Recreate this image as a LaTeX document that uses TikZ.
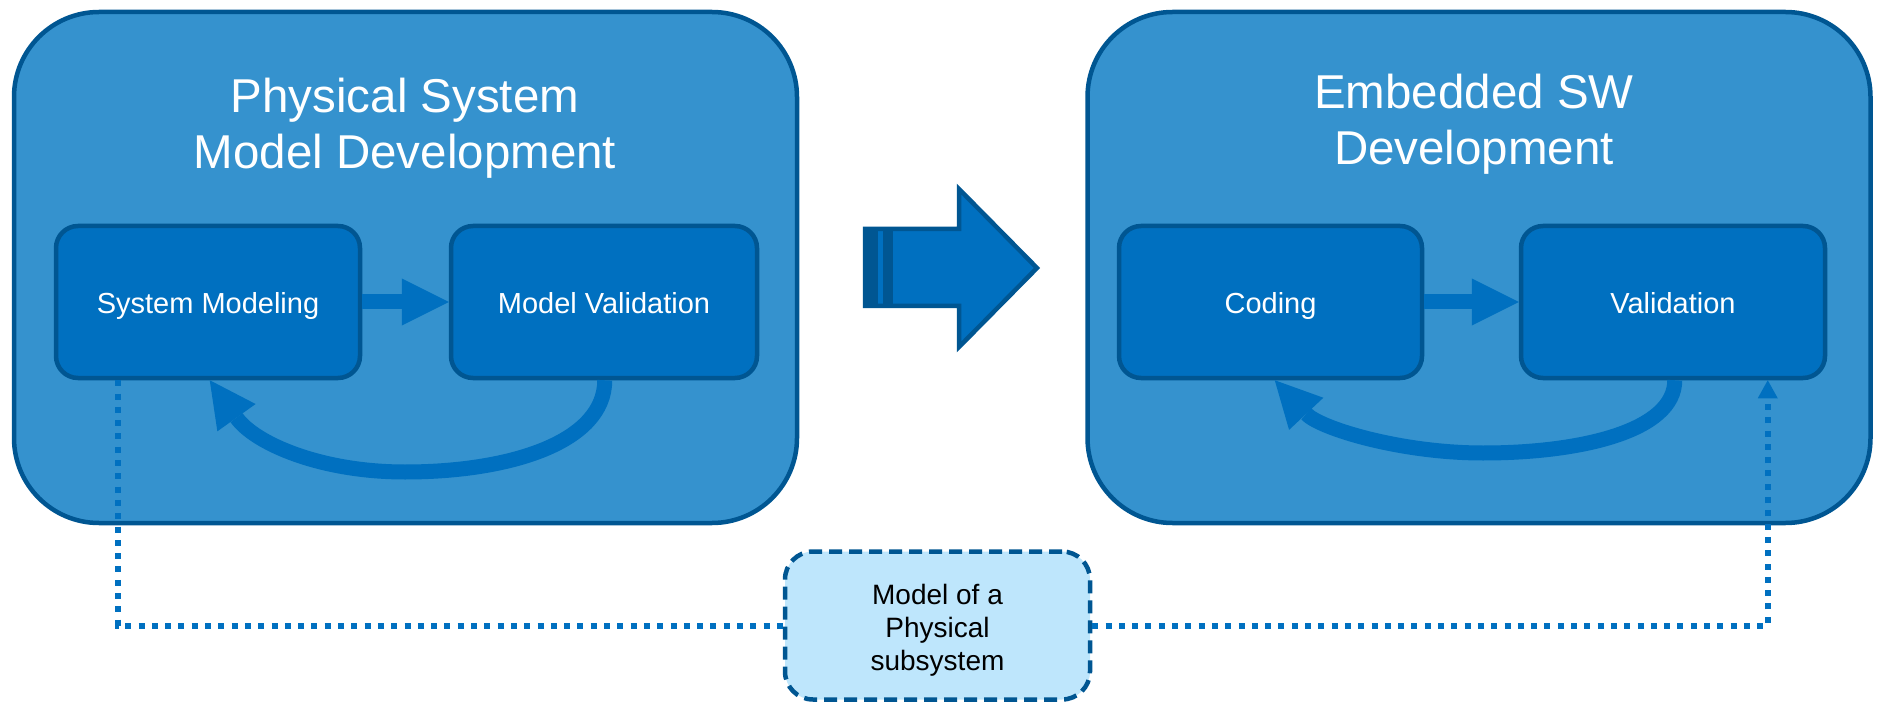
\documentclass[tikz,border=0pt]{standalone}
\usepackage{fontspec}
\setmainfont{Liberation Sans}
\usetikzlibrary{arrows.meta,calc}
\definecolor{panelfill}{RGB}{53,146,206}
\definecolor{boxfill}{RGB}{0,112,192}
\definecolor{rim}{RGB}{0,86,146}
\definecolor{notefill}{RGB}{190,230,252}

\begin{document}
\begin{tikzpicture}[x=1pt,y=-1pt,
  panel/.style={draw=rim, line width=4.5pt, fill=panelfill, rounded corners=85pt,
    minimum width=783pt, minimum height=511pt, inner sep=0pt},
  stage/.style={draw=rim, line width=4.5pt, fill=boxfill, rounded corners=22pt,
    minimum height=152pt, inner sep=0pt, text=white,
    font=\fontsize{29}{34}\selectfont, text height=22pt, text depth=0pt},
  heading/.style={text=white, align=center, inner sep=0pt,
    font=\fontsize{47.5}{56}\selectfont},
  note/.style={draw=rim, line width=4.5pt, dash pattern=on 13pt off 7pt,
    fill=notefill, rounded corners=28pt, minimum width=305pt, minimum height=148pt,
    align=center, inner sep=0pt, font=\fontsize{28}{33}\selectfont},
  flow/.style={draw=boxfill, line width=15pt,
    -{Triangle[length=47pt,width=47pt,line width=0pt]}},
  backflow/.style={draw=boxfill, line width=15pt,
    -{Triangle[length=46pt,width=47pt,line width=0pt]}},
  link/.style={draw=boxfill, line width=6pt, dash pattern=on 6pt off 7.3pt},
]
\useasboundingbox (0,0) rectangle (1879,703);

% the two development phases
\node[panel] (physical) at (405.5,267.5) {};
\node[panel] (embedded) at (1479,267.5) {};
\node[heading] (physicalT) at (405,128) {Physical System\\Model Development};
\node[heading] (embeddedT) at (1474,124.5) {Embedded SW\\Development};

% steps inside each phase
\node[stage, minimum width=304pt] (model) at (208,302) {System Modeling};
\node[stage, minimum width=306pt] (valid) at (604,302) {Model Validation};
\node[stage, minimum width=303pt] (code) at (1270.5,302) {Coding};
\node[stage, minimum width=304pt] (test) at (1673,302) {Validation};

% shared model
\node[note] (sub) at (937.5,625.5) {\rule{0pt}{29pt}Model of a\\Physical\\subsystem};

% striped block arrow between the phases
\draw[rim, fill=boxfill, line width=4.5pt, miter limit=10]
  (865,229) -- (959,229) -- (959,189) -- (1037,268) -- (959,347)
  -- (959,306) -- (865,306) -- cycle;
\fill[rim] (863,227) rectangle (878,308);
\fill[rim] (883,227) rectangle (893,308);

% forward steps
\draw[flow] (model) -- (valid);
\draw[flow] (code) -- (test);

% iteration loops
\coordinate (lowL) at (405,472);
\coordinate (lowR) at (1483,453);
\draw[backflow] ([xshift=156pt]valid.south west) .. controls +(0,62) and +(105,0) .. (lowL)
  .. controls +(-85,0) and +(45,63) .. ([xshift=156pt]model.south west);
\draw[backflow] ([xshift=156pt]test.south west) .. controls +(0,51) and +(97,0) .. (lowR)
  .. controls +(-83,0) and +(45,48) .. ([xshift=158pt]code.south west);

% model reuse links
\draw[link] ([xshift=64pt]model.south west) |- (sub.west);
\draw[link, -{Triangle[length=18pt,width=20pt,line width=0pt]}]
  (sub.east) -| ([xshift=249pt]test.south west);
\end{tikzpicture}
\end{document}
